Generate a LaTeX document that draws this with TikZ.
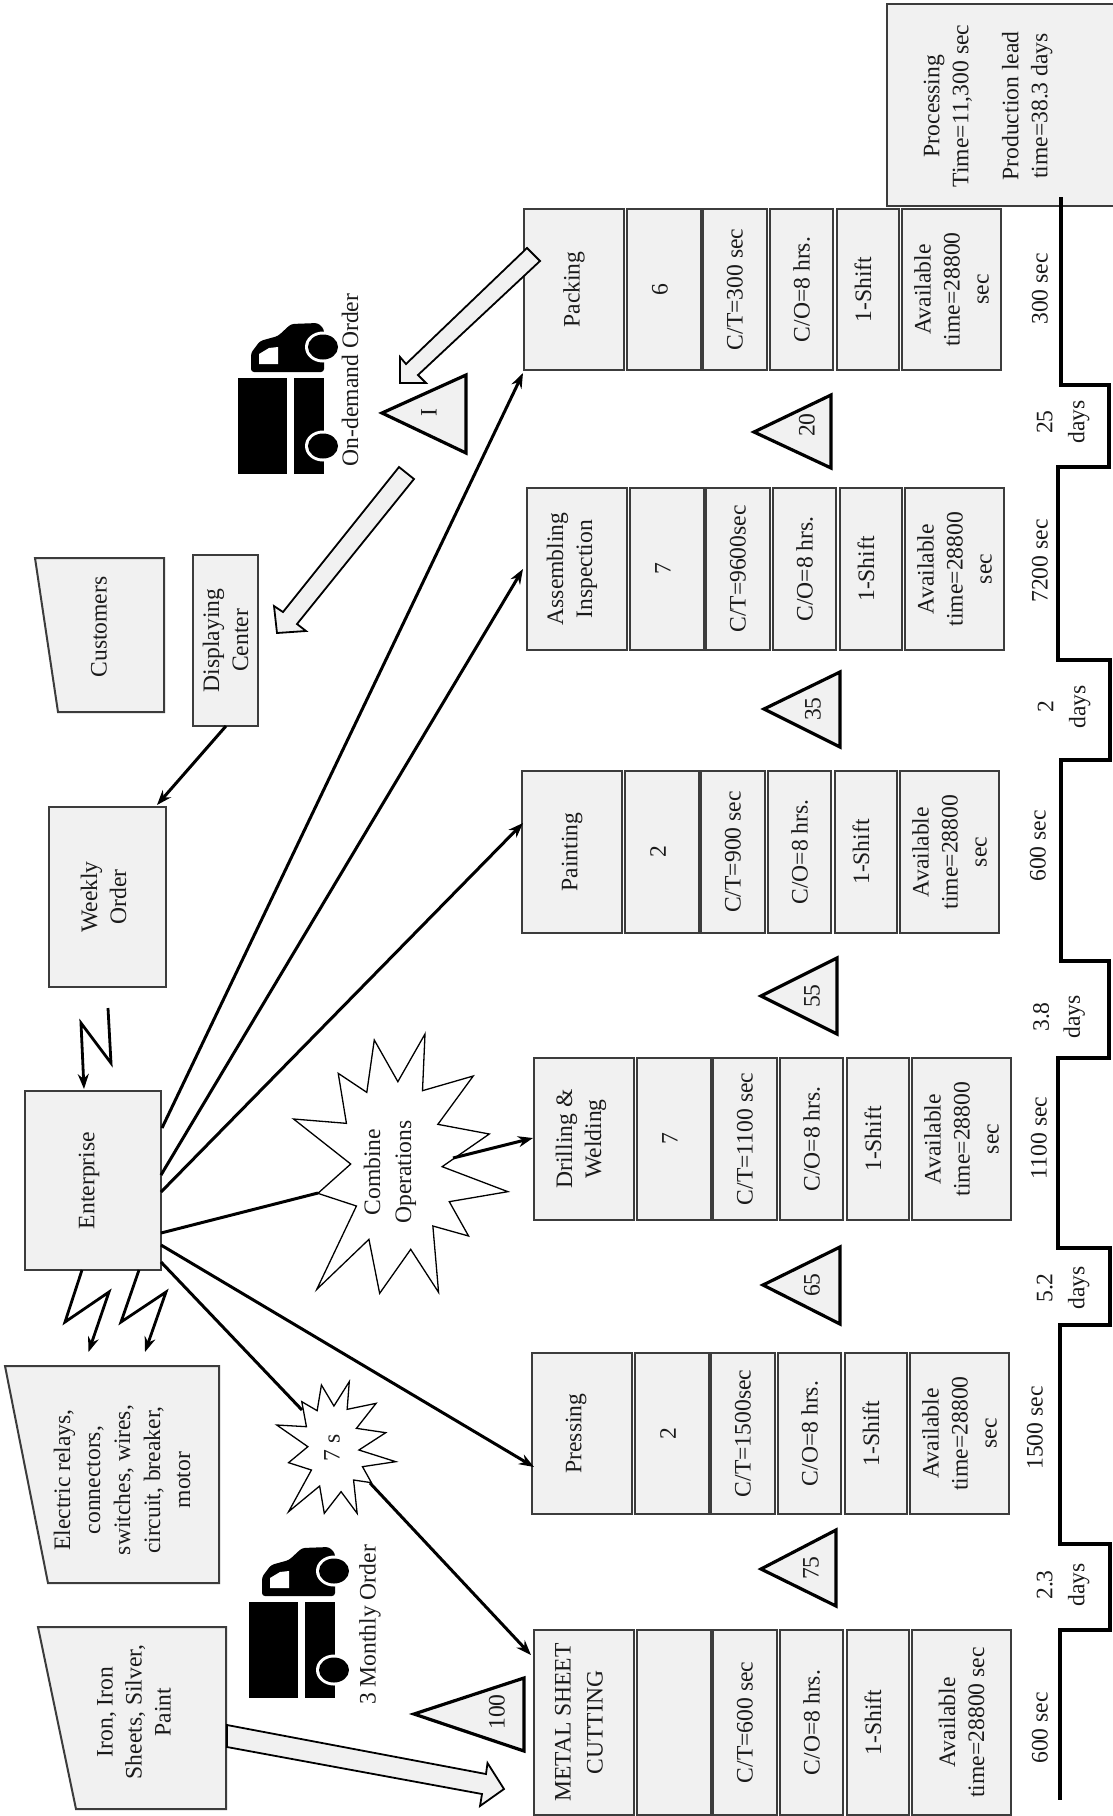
\documentclass[tikz,border=0pt]{standalone}
\usepackage{fontspec}
\setmainfont{Liberation Serif}
\usetikzlibrary{arrows.meta}
\definecolor{boxfill}{HTML}{F1F1F1}
\definecolor{boxline}{HTML}{3C3C3C}
\definecolor{inkc}{HTML}{1A1A1A}
\tikzset{
  boxn/.style={draw=boxline,line width=2pt,fill=boxfill,inner sep=0pt,outer sep=0pt,rotate=90,align=center,text=inkc},
  label/.style={inner sep=0pt,rotate=90,align=center,text=inkc},
  poly/.style={draw=boxline,line width=2pt,fill=boxfill},
  tri/.style={draw=black,line width=3.2pt,fill=boxfill,line join=miter},
  star/.style={draw=black,line width=1.3pt,fill=white,line join=miter},
  block/.style={draw=black,line width=1.8pt,fill=boxfill,line join=miter},
  conn/.style={draw=black,line width=3pt,-{Stealth[length=15pt,width=11pt]}},
  plain/.style={draw=black,line width=3pt},
  zig/.style={draw=black,line width=2.8pt,line join=miter,-{Stealth[length=15pt,width=11pt]}},
  stairs/.style={draw=black,line width=3.2pt,line join=miter},
}
\newcommand{\upl}[2]{\raisebox{#1pt}[\height][\depth]{#2}}
\newcommand{\bx}[6]{%
  \pgfmathsetmacro\bxcx{(#2+#4)/2}\pgfmathsetmacro\bxcy{(#3+#5)/2}%
  \pgfmathsetmacro\bxw{#4-#2}\pgfmathsetmacro\bxh{#5-#3}%
  \node[boxn,minimum width=\bxh pt,minimum height=\bxw pt] (#1) at (\bxcx,\bxcy) {#6};}
\newcommand{\proccol}[8]{%
  \pgfmathsetmacro\ca{#2}\pgfmathsetmacro\cb{#2+100}\pgfmathsetmacro\cc{#2+103}\pgfmathsetmacro\cd{#2+177}%
  \pgfmathsetmacro\ce{#2+179}\pgfmathsetmacro\cf{#2+243}\pgfmathsetmacro\cg{#2+246}\pgfmathsetmacro\ch{#2+309}%
  \pgfmathsetmacro\ci{#2+313}\pgfmathsetmacro\cj{#2+375}\pgfmathsetmacro\ck{#2+378}\pgfmathsetmacro\cl{#2+477}%
  \bx{#1a}{\ca}{#3}{\cb}{#4}{#5}
  \bx{#1b}{\cc}{#3}{\cd}{#4}{\upl{4}{#6}}
  \bx{#1c}{\ce}{#3}{\cf}{#4}{#7}
  \bx{#1d}{\cg}{#3}{\ch}{#4}{C/O=8 hrs.}
  \bx{#1e}{\ci}{#3}{\cj}{#4}{\upl{5}{1-Shift}}
  \bx{#1f}{\ck}{#3}{\cl}{#4}{#8}}
\newcommand{\invtri}[9]{%
  \draw[tri] (#2,#3) -- (#4,#5) -- (#4,#6) -- cycle;
  \node[label] (#1) at (#8,#9) {#7};}
\newcommand{\truck}{%
  \fill[black] (249,1602) rectangle (298,1698);
  \fill[black] (305,1602) rectangle (335,1698);
  \fill[black,rounded corners=3pt] (262,1596) -- (262,1577) -- (271,1565) -- (289,1560) -- (302,1548) -- (329,1547) -- (335,1553) -- (335,1596) -- cycle;
  \fill[white] (270,1588) -- (270,1578) -- (280,1572) -- (289,1571) -- (289,1588) -- cycle;
  \fill[white] (334,1571) ellipse [x radius=18pt,y radius=15.5pt];
  \fill[white] (334,1670) ellipse [x radius=18pt,y radius=15.5pt];
  \fill[black] (334,1571) ellipse [x radius=15pt,y radius=12.5pt];
  \fill[black] (334,1670) ellipse [x radius=15pt,y radius=12.5pt];}
\begin{document}
\begin{tikzpicture}[x=1pt,y=-1pt,font=\fontsize{23.6}{29}\selectfont]
\useasboundingbox (0,0) rectangle (1113,1816);
\fill[white] (0,0) rectangle (1113,1816);

% process columns
\proccol{pack}{524}{209}{370}{Packing}{6}{C/T=300 sec}{Available\\time=28800\\sec}
\proccol{asm}{527}{488}{650}{\upl{5}{Assembling}\\\upl{5}{Inspection}}{7}{C/T=9600sec}{Available\\time=28800\\sec}
\proccol{pnt}{522}{771}{933}{Painting}{2}{C/T=900 sec}{Available\\time=28800\\sec}
\proccol{drl}{534}{1058}{1220}{\upl{3}{Drilling \&}\\\upl{3}{Welding}}{7}{C/T=1100 sec}{Available\\time=28800\\sec}
\proccol{prs}{532}{1353}{1514}{\upl{6}{Pressing}}{2}{C/T=1500sec}{Available\\time=28800\\sec}
\proccol{met}{534}{1630}{1815}{\upl{5}{METAL SHEET}\\[3pt]\upl{5}{CUTTING}}{}{C/T=600 sec}{Available\\time=28800 sec}

% other boxes
\draw[poly] (35,558) -- (164,558) -- (164,712) -- (58,712) -- cycle;
\node[label] (cust) at (99,627) {Customers};
\bx{disp}{193}{555}{258}{726}{Displaying\\Center}
\bx{week}{49}{807}{166}{987}{\upl{4}{Weekly}\\\upl{4}{Order}}
\bx{ent}{25}{1091}{161}{1270}{\upl{4}{Enterprise}}
\draw[poly] (5,1366) -- (219,1366) -- (219,1583) -- (48,1583) -- cycle;
\node[label] (elec) at (122,1480) {Electric relays,\\[1pt]connectors,\\[1pt]switches, wires,\\[1pt]circuit, breaker,\\[1pt]motor};
\draw[poly] (38,1627) -- (226,1627) -- (226,1809) -- (76,1809) -- cycle;
\node[label] (iron) at (134,1712) {Iron, Iron\\Sheets, Silver,\\Paint};
\bx{total}{887}{4}{1118}{206}{}
\node[label] (totalt) at (988,106) {Processing\\Time=11,300 sec\\[21pt]Production lead\\time=38.3 days};

% inventory triangles
\invtri{t100}{414}{1714}{524}{1678}{1751}{100}{497}{1712}
\invtri{t75}{761}{1569}{836}{1530}{1606}{75}{811}{1568}
\invtri{t65}{763}{1285}{840}{1247}{1324}{65}{812}{1285}
\invtri{t55}{761}{996}{837}{958}{1034}{55}{812}{996}
\invtri{t35}{764}{709}{840}{672}{747}{35}{813}{709}
\invtri{t20}{754}{432}{831}{395}{468}{20}{807}{425}
\invtri{tI}{382}{413}{466}{375}{453}{I}{429}{413}

% connector end points
\coordinate (e1) at (162,1128); \coordinate (p1) at (523,373);
\coordinate (e2) at (161,1175); \coordinate (p2) at (523,569);
\coordinate (e3) at (161,1192); \coordinate (p3) at (523,823);
\coordinate (e4) at (161,1233); \coordinate (s1) at (318,1193);
\coordinate (s2) at (453,1158); \coordinate (p4) at (533,1138);
\coordinate (e5) at (161,1245); \coordinate (p5) at (534,1467);
\coordinate (e6) at (161,1262); \coordinate (s3) at (302,1410);
\coordinate (s4) at (370,1483); \coordinate (p6) at (531,1655);
\coordinate (d1) at (226,726);  \coordinate (w1) at (157,805);

\draw[conn] (e1) -- (p1);
\draw[conn] (e2) -- (p2);
\draw[conn] (e3) -- (p3);
\draw[plain] (e4) -- (s1);
\draw[conn] (e5) -- (p5);
\draw[plain] (e6) -- (s3);
\draw[conn] (d1) -- (w1);

% stars
\begin{scope}[shift={(0,950)},x=0.35714pt,y=-0.33333pt]
\draw[star] (1190,252) -- (1183,422) -- (1325,378) -- (1226,523) -- (1370,552) -- (1238,650) -- (1422,725) -- (1258,755) -- (1312,858) -- (1212,828) -- (1228,1027) -- (1150,898) -- (1063,1030) -- (1033,868) -- (887,1018) -- (998,768) -- (890,730) -- (982,642) -- (822,507) -- (970,520) -- (947,370) -- (1027,427) -- (1048,270) -- (1114,395) -- cycle;
\end{scope}
\begin{scope}[shift={(0,1300)},x=0.35714pt,y=-0.33333pt]
\draw[star] (900,255) -- (935,318) -- (978,245) -- (972,328) -- (1053,310) -- (998,385) -- (1080,398) -- (1005,450) -- (1108,485) -- (1015,500) -- (1040,548) -- (990,540) -- (1000,640) -- (955,575) -- (908,640) -- (895,558) -- (808,635) -- (872,510) -- (808,488) -- (862,440) -- (775,375) -- (858,380) -- (845,305) -- (888,332) -- cycle;
\end{scope}
\node[label] (comb) at (390,1172) {Combine\\[2pt]Operations};
\node[label] (seven) at (332,1448) {7 s};
\draw[conn] (s2) -- (p4);
\draw[conn] (s4) -- (p6);

% zigzag information arrows
\coordinate (z1a) at (108,1008); \coordinate (z1b) at (111,1063); \coordinate (z1c) at (81,1023); \coordinate (z1d) at (84,1089);
\coordinate (z2a) at (82,1270);  \coordinate (z2b) at (65,1322);  \coordinate (z2c) at (109,1292); \coordinate (z2d) at (88.5,1352);
\coordinate (z3a) at (139,1270); \coordinate (z3b) at (121,1322); \coordinate (z3c) at (166,1292); \coordinate (z3d) at (145,1352);
\draw[zig] (z1a) -- (z1b) -- (z1c) -- (z1d);
\draw[zig] (z2a) -- (z2b) -- (z2c) -- (z2d);
\draw[zig] (z3a) -- (z3b) -- (z3c) -- (z3d);

% block arrows
\draw[block] (227,1725) -- (486,1774) -- (487.5,1763) -- (504,1789) -- (480,1806) -- (482,1794) -- (227,1747) -- cycle;
\draw[block] (527,248) -- (406,364) -- (400,357) -- (400,383) -- (426,383) -- (418,375) -- (540,261) -- cycle;
\draw[block] (399,467) -- (283,612) -- (274,606) -- (277,633) -- (306,631) -- (297,624) -- (414,479) -- cycle;

% trucks
\truck
\begin{scope}[shift={(-11,-1224)}]
\truck
\end{scope}
\node[label] (mon) at (370,1625) {3 Monthly Order};
\node[label] (ond) at (350,380) {On-demand Order};

% timeline
\coordinate (tl0) at (1061,197);
\coordinate (tl1) at (1060,1800);
\draw[stairs] (tl0) -- (1061,385) -- (1109,385) -- (1109,467) -- (1058,467) -- (1058,660) -- (1110,660) -- (1110,760) -- (1061,760) -- (1061,961) -- (1109,961) -- (1109,1058) -- (1058,1058) -- (1058,1248) -- (1110,1248) -- (1110,1325) -- (1060,1325) -- (1060,1544) -- (1110,1544) -- (1110,1630) -- (1060,1630) -- (tl1);
\node[label] (l300) at (1040,289) {300 sec};
\node[label] (d25) at (1063,422) {25\\[3pt]days};
\node[label] (l7200) at (1040,561) {7200 sec};
\node[label] (d2) at (1064,707) {2\\[3pt]days};
\node[label] (l600a) at (1038,846) {600 sec};
\node[label] (d38) at (1059,1017) {3.8\\[2pt]days};
\node[label] (l1100) at (1039,1138) {1100 sec};
\node[label] (d52) at (1063,1288) {5.2\\[3pt]days};
\node[label] (l1500) at (1035,1428) {1500 sec};
\node[label] (d23) at (1063,1585) {2.3\\[3pt]days};
\node[label] (l600b) at (1040,1728) {600 sec};
\end{tikzpicture}
\end{document}
